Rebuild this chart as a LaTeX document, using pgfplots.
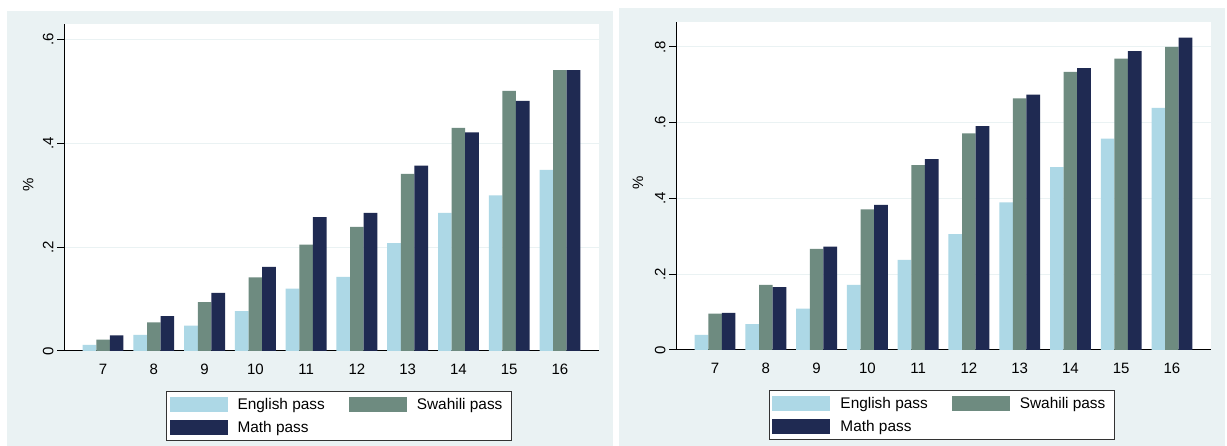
\documentclass[border=0pt]{standalone}
\usepackage{fontspec}
\setmainfont{Liberation Sans}
\usepackage{pgfplots}
\pgfplotsset{compat=1.18}
\definecolor{bg}{RGB}{234,242,243}
\definecolor{eng}{RGB}{173,216,230}
\definecolor{swa}{RGB}{110,139,128}
\definecolor{mat}{RGB}{31,42,82}
\pgfplotsset{
  swatch/.style={legend image code/.code={\fill[##1] (0bp,-7.5bp) rectangle (58bp,7.5bp);}},
  stata/.style={
    scale only axis, width=535bp,
    anchor=south west,
    axis background/.style={fill=white},
    ybar=0pt, bar width=13.6bp,
    xmin=6.23, xmax=16.77, ymin=0,
    axis x line*=bottom, axis y line*=left,
    axis line style={line width=1bp, black, -},
    xtick={7,8,9,10,11,12,13,14,15,16},
    xticklabels={7,8,9,10,11,12,13,14,15,16},
    x tick style={draw=none},
    y tick style={line width=1bp, black},
    tick align=outside, major tick length=7bp,
    ymajorgrids, y grid style={bg, line width=1bp},
    ticklabel style={font=\fontsize{15bp}{17bp}\selectfont},
    yticklabel style={rotate=90, anchor=south},
    xticklabel style={yshift=-2.5bp},
    ylabel={\%},
    legend columns=2,
    legend cell align=left,
    legend style={draw=black!80, line width=1bp, fill=white,
      font=\fontsize{15.4bp}{17bp}\selectfont,
      inner xsep=3bp, inner ysep=4.5bp, row sep=6.5bp,
      nodes={inner sep=2bp},
      /tikz/every odd column/.append style={column sep=8bp},
      /tikz/every even column/.append style={column sep=22bp}},
  }
}
\begin{document}
\begin{tikzpicture}[x=1bp,y=1bp]
\path[use as bounding box, fill=white] (0,0) rectangle (1227,446);
\fill[bg] (7,0) rectangle (613,435);
\fill[bg] (619,0) rectangle (1225,438);

\begin{axis}[stata, at={(64bp,95bp)}, height=327bp, ymax=0.630,
  ytick={0,0.2,0.4,0.6}, yticklabels={0,.2,.4,.6},
  every axis y label/.style={at={(axis description cs:-0.067,0.508)}, rotate=90, anchor=center, font=\fontsize{15bp}{17bp}\selectfont},
  legend style={at={(0.1907,-0.1223)}, anchor=north west}]
\addplot[fill=eng, draw=none, swatch] coordinates {(7,0.012) (8,0.031) (9,0.049) (10,0.077) (11,0.120) (12,0.143) (13,0.208) (14,0.266) (15,0.300) (16,0.349)};
\addplot[fill=swa, draw=none, swatch] coordinates {(7,0.022) (8,0.055) (9,0.094) (10,0.142) (11,0.205) (12,0.239) (13,0.341) (14,0.430) (15,0.501) (16,0.541)};
\addplot[fill=mat, draw=none, swatch] coordinates {(7,0.030) (8,0.067) (9,0.112) (10,0.162) (11,0.258) (12,0.266) (13,0.357) (14,0.421) (15,0.482) (16,0.541)};
\legend{English pass, Swahili pass\hspace*{4bp}, Math pass}
\end{axis}

\begin{axis}[stata, at={(676bp,96bp)}, height=328bp, ymax=0.866,
  ytick={0,0.2,0.4,0.6,0.8}, yticklabels={0,.2,.4,.6,.8},
  every axis y label/.style={at={(axis description cs:-0.071,0.509)}, rotate=90, anchor=center, font=\fontsize{15bp}{17bp}\selectfont},
  legend style={at={(0.1738,-0.122)}, anchor=north west}]
\addplot[fill=eng, draw=none, swatch] coordinates {(7,0.040) (8,0.068) (9,0.109) (10,0.172) (11,0.238) (12,0.306) (13,0.390) (14,0.483) (15,0.558) (16,0.639)};
\addplot[fill=swa, draw=none, swatch] coordinates {(7,0.096) (8,0.172) (9,0.267) (10,0.371) (11,0.488) (12,0.572) (13,0.664) (14,0.734) (15,0.769) (16,0.800)};
\addplot[fill=mat, draw=none, swatch] coordinates {(7,0.098) (8,0.166) (9,0.273) (10,0.383) (11,0.504) (12,0.591) (13,0.674) (14,0.744) (15,0.789) (16,0.825)};
\legend{English pass, Swahili pass\hspace*{4bp}, Math pass}
\end{axis}
\end{tikzpicture}
\end{document}
